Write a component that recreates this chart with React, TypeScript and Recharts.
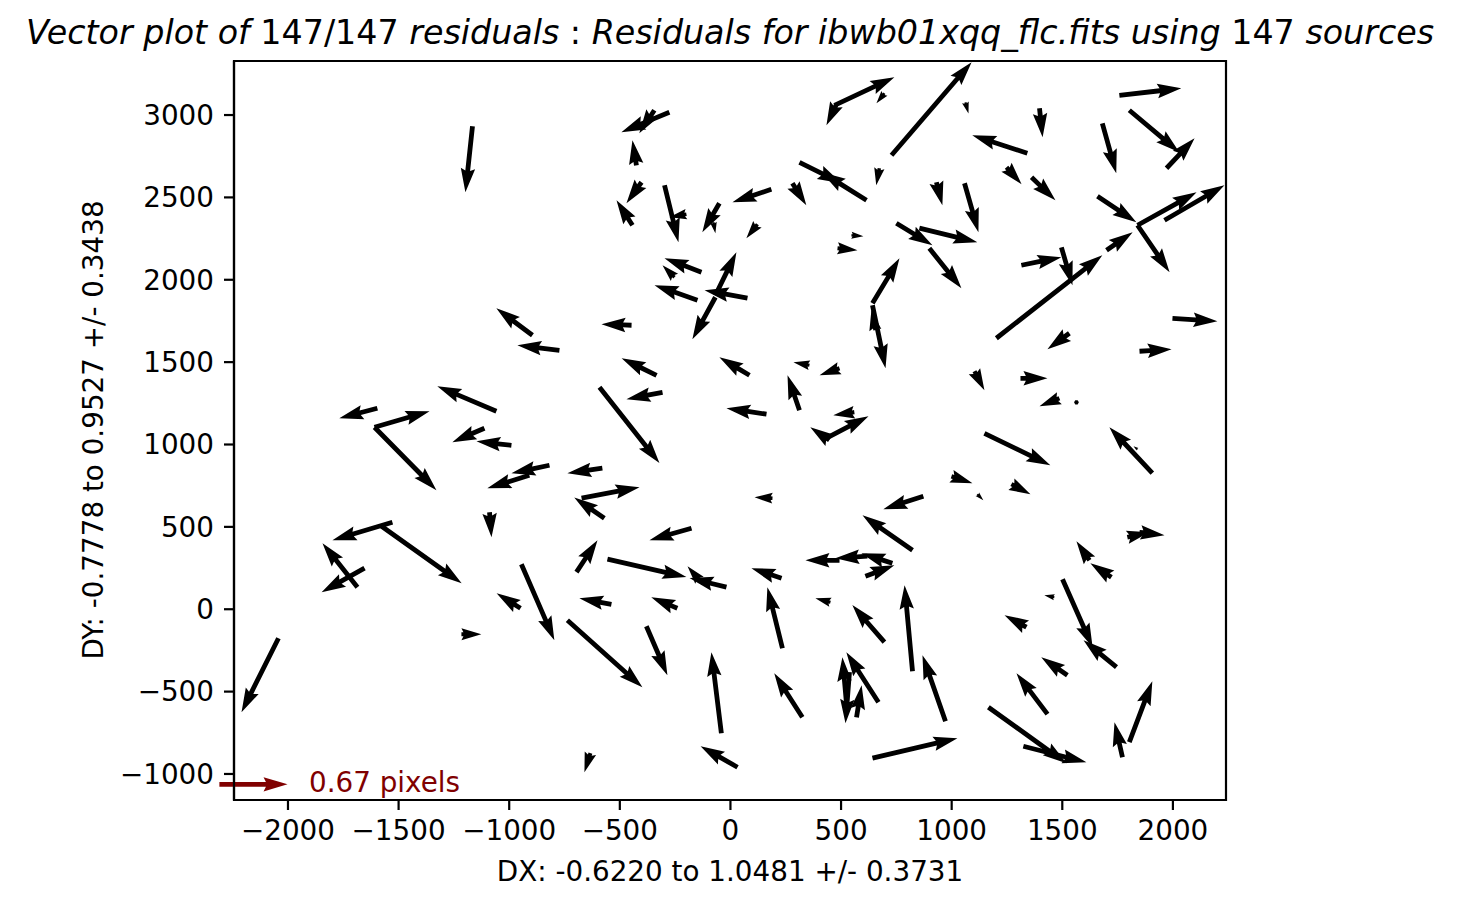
import { ScatterChart, Scatter, XAxis, YAxis, ReferenceLine, ReferenceArea } from 'recharts'

// residual vectors: tail position (x, y) and vector (dx, dy), all in axis units
const xs = [
  -276, -425, -344, -402, -443, -298, -199, -50, -77, 185, -131, -253, -149, 77, -68, -68,
  728, 470, 479, 696, 1062, 1342, 312, 615, 673, 280, 122, 547, 484, 750, 854, 899, 931, 1058, 642, 642, 655,
  1758, 1803, 1971, 1681, 1397, 1248, 1361, 1659, 1840, 1962, 1840, 1202, 1700, 1315, 1496,
  -1166,
  -1596, -1609, -1609, -1058, -1112, -990, -1089, -1528, -1577, -1686, -1654, -1216, -2043,
  -895, -773, -447, -334, -307, -592, -818, -909, -579, -673, -570, -176, -696, -556,
  86, 163, 312, 357, 493, 434, 447, 560, 1103, 190, 872, 823, 999, 1116,
  1998, 1849, 1532, 1311, 1487, 1564, 1148, 1907, 1840, 1270, 1794, 1849, 1623,
  1722, 1501, 1745, 1464, 1338, 1523, 1433, 1166, 1324, 1772, 1803,
  493, 619, 732, 610, 231, 235, 452, 696, 823, 972, 642, 325, 669, 524, 538, 570, -41, 32,
  -18, -140, -945, -949, -737, -538, -240, -380, -633,
]
const ys = [
  3017, 2695, 3029, 2592, 2331, 2574, 2398, 2464, 2349, 2549, 2046, 2015, 1876, 1888, 1906, 1894,
  2756, 3059, 3065, 3132, 3077, 2768, 2713, 2483, 2677, 2586, 2337, 2270, 2191, 2343, 2313, 2191, 2592, 2586, 1857, 1845, 1694,
  3120, 3029, 2677, 2950, 3041, 2683, 2622, 2507, 2331, 2361, 2331, 1645, 2179, 2088, 2197,
  2932,
  1220, 1105, 1105, 1202, 1099, 995, 589, 528, 504, 134, 249, -152, -176,
  1663, 1572, 1724, 1420, 1317, 1348, 874, 813, 856, 674, 552, 492, 225, 304,
  1420, 1184, 1208, 1481, 1463, 1038, 1026, 1196, 1445, 674, 686, 358, 807, 698,
  1766, 1566, 1675, 1402, 1281, 1256, 1068, 826, 971, 759, 437, 467, 297,
  194, 182, -352, 73, -109, -401, -637, -595, -832, -898, -807,
  297, 322, 279, 200, 188, -237, 42, -200, -376, -680, -904, -656, -565, -565, -382, -656, -753, -959,
  134, 176, 273, 6, -67, 30, 6, -103, -874,
]
const dxs = [
  -217, -18, -68, -68, -72, 63, -77, -77, 9, -176, -167, -54, -194, -194, 95, -104,
  362, 271, -45, -36, 14, -249, 190, -203, -14, 63, -50, 54, 90, 163, 262, 145, 27, 63, 122, 59, -18,
  280, 226, 127, 63, 14, 68, 108, 176, 267, 271, 145, 479, 118, 181, 50,
  -32,
  -172, 249, 280, -267, -145, -158, 9, -271, 362, -158, -194, 90, -167,
  -163, -190, -136, -158, -163, 271, -172, -190, -158, 262, -136, -190, 95, 357,
  -136, -181, -54, -72, -90, 190, -86, -95, 45, -81, -181, -226, 95, 27,
  203, 145, -99, 122, -90, 14, 298, -194, -18, 86, 99, 113, -59,
  -95, 136, -149, -45, -99, -118, -140, 353, 285, -36, 104,
  -154, -145, -140, 131, -136, -68, -68, -145, -36, -104, 384, -127, -145, -18, -18, 23, -45, -167,
  -167, -54, 149, -108, 339, -145, -118, 95, -27,
]
const dys = [
  -121, 152, -140, -127, 152, -346, -18, -176, -67, -79, 85, 73, 91, 49, 261, -255,
  565, 170, -127, -61, -67, 109, -127, 170, -103, -134, -85, -6, -12, -134, -85, -243, -140, -297, 273, -382, 121,
  42, -255, 182, -304, -176, -103, -140, -158, 200, 212, -285, 504, 109, 49, -231,
  -401,
  -61, 97, -382, 152, -85, 24, -152, -109, -346, 267, -146, 0, -449,
  164, 30, 6, 103, -42, -461, -49, -79, -30, 67, 127, -73, 194, -109,
  109, 36, 212, 18, -42, 134, 79, -18, -115, 6, -79, 212, -42, -36,
  -18, 12, -97, 0, -49, 0, -194, 279, 18, -61, 30, -18, 115,
  85, -413, 164, 12, 73, 109, 249, -340, -97, 212, 370,
  0, -12, 61, 67, 61, 370, 24, 225, 522, 401, 121, 267, 304, 273, -310, 194, 492, 127,
  55, 85, -461, 91, -407, 36, 67, -297, -115,
]

const xTicks = [-2000, -1500, -1000, -500, 0, 500, 1000, 1500, 2000]
const yTicks = [-1000, -500, 0, 500, 1000, 1500, 2000, 2500, 3000]
const xDomain = [-2244, 2240]
const yDomain = [-1158, 3328]

// quiver key
const keyX = -2310
const keyY = -1063
const keyDx = 308
const keyLabel = '0.67 pixels'

const xLabel = 'DX: -0.6220 to 1.0481 +/- 0.3731'
const yLabel = 'DY: -0.7778 to 0.9527 +/- 0.3438'

const FONT = 'DejaVu Sans'
const SHAFT = 4.8
const HEAD_LEN = 5
const HEAD_AXIS = 4.5
const HEAD_W = 3

function arrowPoints(x1: number, y1: number, x2: number, y2: number, w: number) {
  const ux = x2 - x1
  const uy = y2 - y1
  const px = Math.hypot(ux, uy)
  const len = px / w
  const c = px > 0 ? ux / px : 1
  const s = px > 0 ? uy / px : 0
  let pts: number[][]
  if (len < 1) {
    pts = [0, 1, 2, 3, 4, 5].map(k => [Math.cos((k * Math.PI) / 3) * 0.5, Math.sin((k * Math.PI) / 3) * 0.5])
  } else {
    let X = [0, len - HEAD_AXIS, len - HEAD_LEN, len]
    let Y = [0.5, 0.5, HEAD_W / 2, 0]
    if (len < HEAD_LEN) {
      const k = len / HEAD_LEN
      X = [0, HEAD_LEN - HEAD_AXIS, 0, HEAD_LEN].map(v => v * k)
      Y = Y.map(v => v * k)
    }
    pts = [0, 1, 2, 3, 2, 1, 0].map((i, j) => [X[i], j > 3 ? -Y[i] : Y[i]])
  }
  return pts.map(([a, b]) => `${x1 + (a * c - b * s) * w},${y1 + (a * s + b * c) * w}`).join(' ')
}

function QuiverArrow(props: any) {
  const { x1, y1, x2, y2, clipPath, color } = props
  if ([x1, y1, x2, y2].some(v => typeof v !== 'number' || isNaN(v))) return <g />
  return <polygon points={arrowPoints(x1, y1, x2, y2, SHAFT)} fill={color} clipPath={clipPath} />
}

const fmt = (v: number) => (v < 0 ? '\u2212' + Math.abs(v) : String(v))
const tickStyle = { fill: '#000', fontSize: 27.8, fontFamily: FONT }
const lineStyle = { stroke: '#000', strokeWidth: 2.2 }

export default function App() {
  const tails = xs.map((x, i) => ({ x, y: ys[i] }))

  return (
    <div style={{ position: 'absolute', left: 0, top: 0, width: 1460, height: 907, background: '#fff' }}>
      <ScatterChart width={1460} height={907} margin={{ top: 61, right: 234, bottom: 47, left: 114 }}>
        <XAxis
          type="number"
          dataKey="x"
          domain={xDomain}
          ticks={xTicks}
          allowDataOverflow
          interval={0}
          height={60}
          tickSize={10}
          tickMargin={10}
          tick={tickStyle}
          tickLine={lineStyle}
          axisLine={lineStyle}
          tickFormatter={fmt}
        />
        <YAxis
          type="number"
          dataKey="y"
          domain={yDomain}
          ticks={yTicks}
          allowDataOverflow
          interval={0}
          width={120}
          tickSize={10}
          tickMargin={10}
          tick={tickStyle}
          tickLine={lineStyle}
          axisLine={lineStyle}
          tickFormatter={fmt}
        />
        <Scatter data={tails} isAnimationActive={false} shape={() => <g />} />
        {xs.map((x, i) => (
          <ReferenceLine
            key={`arrow-${i}`}
            segment={[{ x, y: ys[i] }, { x: x + dxs[i], y: ys[i] + dys[i] }]}
            ifOverflow="hidden"
            shape={(p: any) => <QuiverArrow {...p} color="#000" />}
          />
        ))}
        <ReferenceLine
          segment={[{ x: keyX, y: keyY }, { x: keyX + keyDx, y: keyY }]}
          ifOverflow="visible"
          shape={(p: any) => <QuiverArrow {...p} clipPath={undefined} color="#800000" />}
        />
        <ReferenceArea
          x1={xDomain[0]}
          x2={xDomain[1]}
          y1={yDomain[0]}
          y2={yDomain[1]}
          fill="none"
          fillOpacity={0}
          stroke="#000"
          strokeWidth={2.2}
          ifOverflow="visible"
        />
      </ScatterChart>
      <svg
        width={1460}
        height={907}
        style={{ position: 'absolute', left: 0, top: 0, pointerEvents: 'none' }}
        fontFamily={FONT}
      >
        <text x={730} y={44} textAnchor="middle" fontSize={33.3} style={{ whiteSpace: 'pre' }}>
          <tspan fontStyle="italic">{'Vector plot of '}</tspan>
          <tspan>{'147/147'}</tspan>
          <tspan fontStyle="italic">{' residuals'}</tspan>
          <tspan>{' : '}</tspan>
          <tspan fontStyle="italic">{'Residuals for ibwb01xqq_flc.fits using '}</tspan>
          <tspan>{'147'}</tspan>
          <tspan fontStyle="italic">{' sources'}</tspan>
        </text>
        <text x={730} y={881} textAnchor="middle" fontSize={27.8}>{xLabel}</text>
        <text x={103} y={430} textAnchor="middle" fontSize={27.8} transform="rotate(-90, 103, 430)">{yLabel}</text>
        <text x={309} y={792} fontSize={27.8} fill="#800000">{keyLabel}</text>
      </svg>
    </div>
  )
}
